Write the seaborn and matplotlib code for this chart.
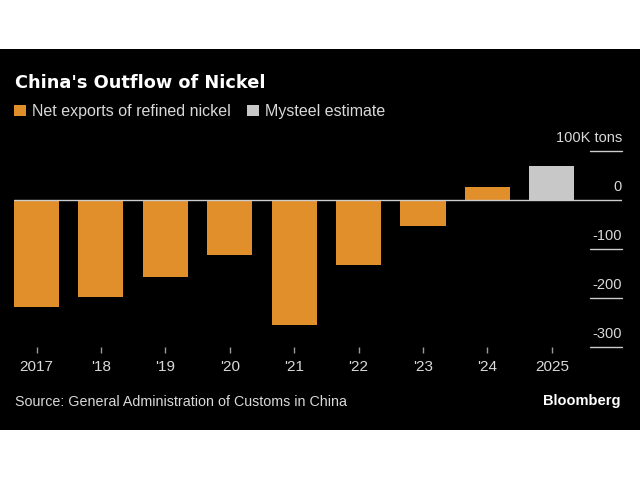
import matplotlib
matplotlib.use('Agg')
import matplotlib.pyplot as plt
import matplotlib.transforms as mtransforms
from matplotlib.patches import Rectangle, Patch
import seaborn as sns
import pandas as pd

# Dados (mil toneladas)
anos = ['2017', "'18", "'19", "'20", "'21", "'22", "'23", "'24", '2025']
valores = [-217, -198, -156, -111, -255, -132, -53, 27, 71]
serie = ['Net exports of refined nickel'] * 8 + ['Mysteel estimate']
y_ticks = [100, 0, -100, -200, -300]
y_labels = ['100K tons', '0', '-100', '-200', '-300']

cores = {'Net exports of refined nickel': '#e08f2b', 'Mysteel estimate': '#c8c8c8'}
texto_cor = '#d9d9d9'

sns.set_style('dark')
plt.rcParams['font.family'] = ['Liberation Sans', 'DejaVu Sans']

W, H = 640, 480
fig = plt.figure(figsize=(6.4, 4.8), dpi=100)
fig.patch.set_facecolor('white')
fig.patches.append(Rectangle((0, 1 - 430 / H), 1, 381 / H, transform=fig.transFigure,
                             facecolor='black', edgecolor='none', zorder=-5))

ax = fig.add_axes([14 / W, 1 - 347.3 / H, 608 / W, 200.9 / H])
ax.set_facecolor('black')

df = pd.DataFrame({'ano': anos, 'valor': valores, 'serie': serie})
sns.barplot(data=df, x='ano', y='valor', hue='serie', palette=cores, dodge=False,
            width=0.7, linewidth=0, saturation=1, legend=False, ax=ax)

ax.set_xlim(-0.35, 9.09)
ax.set_ylim(-300, 110)
ax.set_xlabel('')
ax.set_ylabel('')
ax.grid(False)
for s in ax.spines.values():
    s.set_visible(False)

ax.tick_params(axis='x', bottom=True, direction='out', colors='#9a9a9a', length=4.5,
               width=1, pad=5, labelcolor=texto_cor, labelsize=11)
ax.set_yticks([])

# eixo y à direita, com rótulo acima de cada linha
trans = mtransforms.blended_transform_factory(ax.transAxes, ax.transData)
for v, lab in zip(y_ticks, y_labels):
    if v == 0:
        ax.axhline(0, color='#cccccc', lw=1, zorder=3)
    else:
        ax.plot([(590 - 14) / 608, 1], [v, v], transform=trans, color='#cccccc',
                lw=1, clip_on=False)
    ax.annotate(lab, xy=(1, v), xycoords=trans, xytext=(0, 6.5), textcoords='offset points',
                ha='right', va='baseline', color=texto_cor, fontsize=10.5, annotation_clip=False)

# título, legenda, fonte
fig.text(15 / W, 1 - 88 / H, "China's Outflow of Nickel", color='white', fontsize=12.8,
         fontweight='bold', family=['DejaVu Sans'], va='baseline')

handles = [Patch(facecolor=c, edgecolor='none', label=k) for k, c in cores.items()]
leg = fig.legend(handles=handles, loc='upper left', bbox_to_anchor=(14 / W, 1 - 104 / H),
                 ncol=2, frameon=False, fontsize=11.5, handlelength=0.75, handleheight=0.75,
                 handletextpad=0.4, columnspacing=1.0, borderaxespad=0, borderpad=0)
for t in leg.get_texts():
    t.set_color(texto_cor)

fig.text(15 / W, 1 - 406 / H, 'Source: General Administration of Customs in China',
         color=texto_cor, fontsize=10.3, va='baseline')
fig.text(620 / W, 1 - 405 / H, 'Bloomberg', color='white', fontsize=10.5, fontweight='bold',
         family=['Liberation Sans', 'DejaVu Sans'], ha='right', va='baseline')

fig.savefig('out.png', dpi=100, facecolor='white')
